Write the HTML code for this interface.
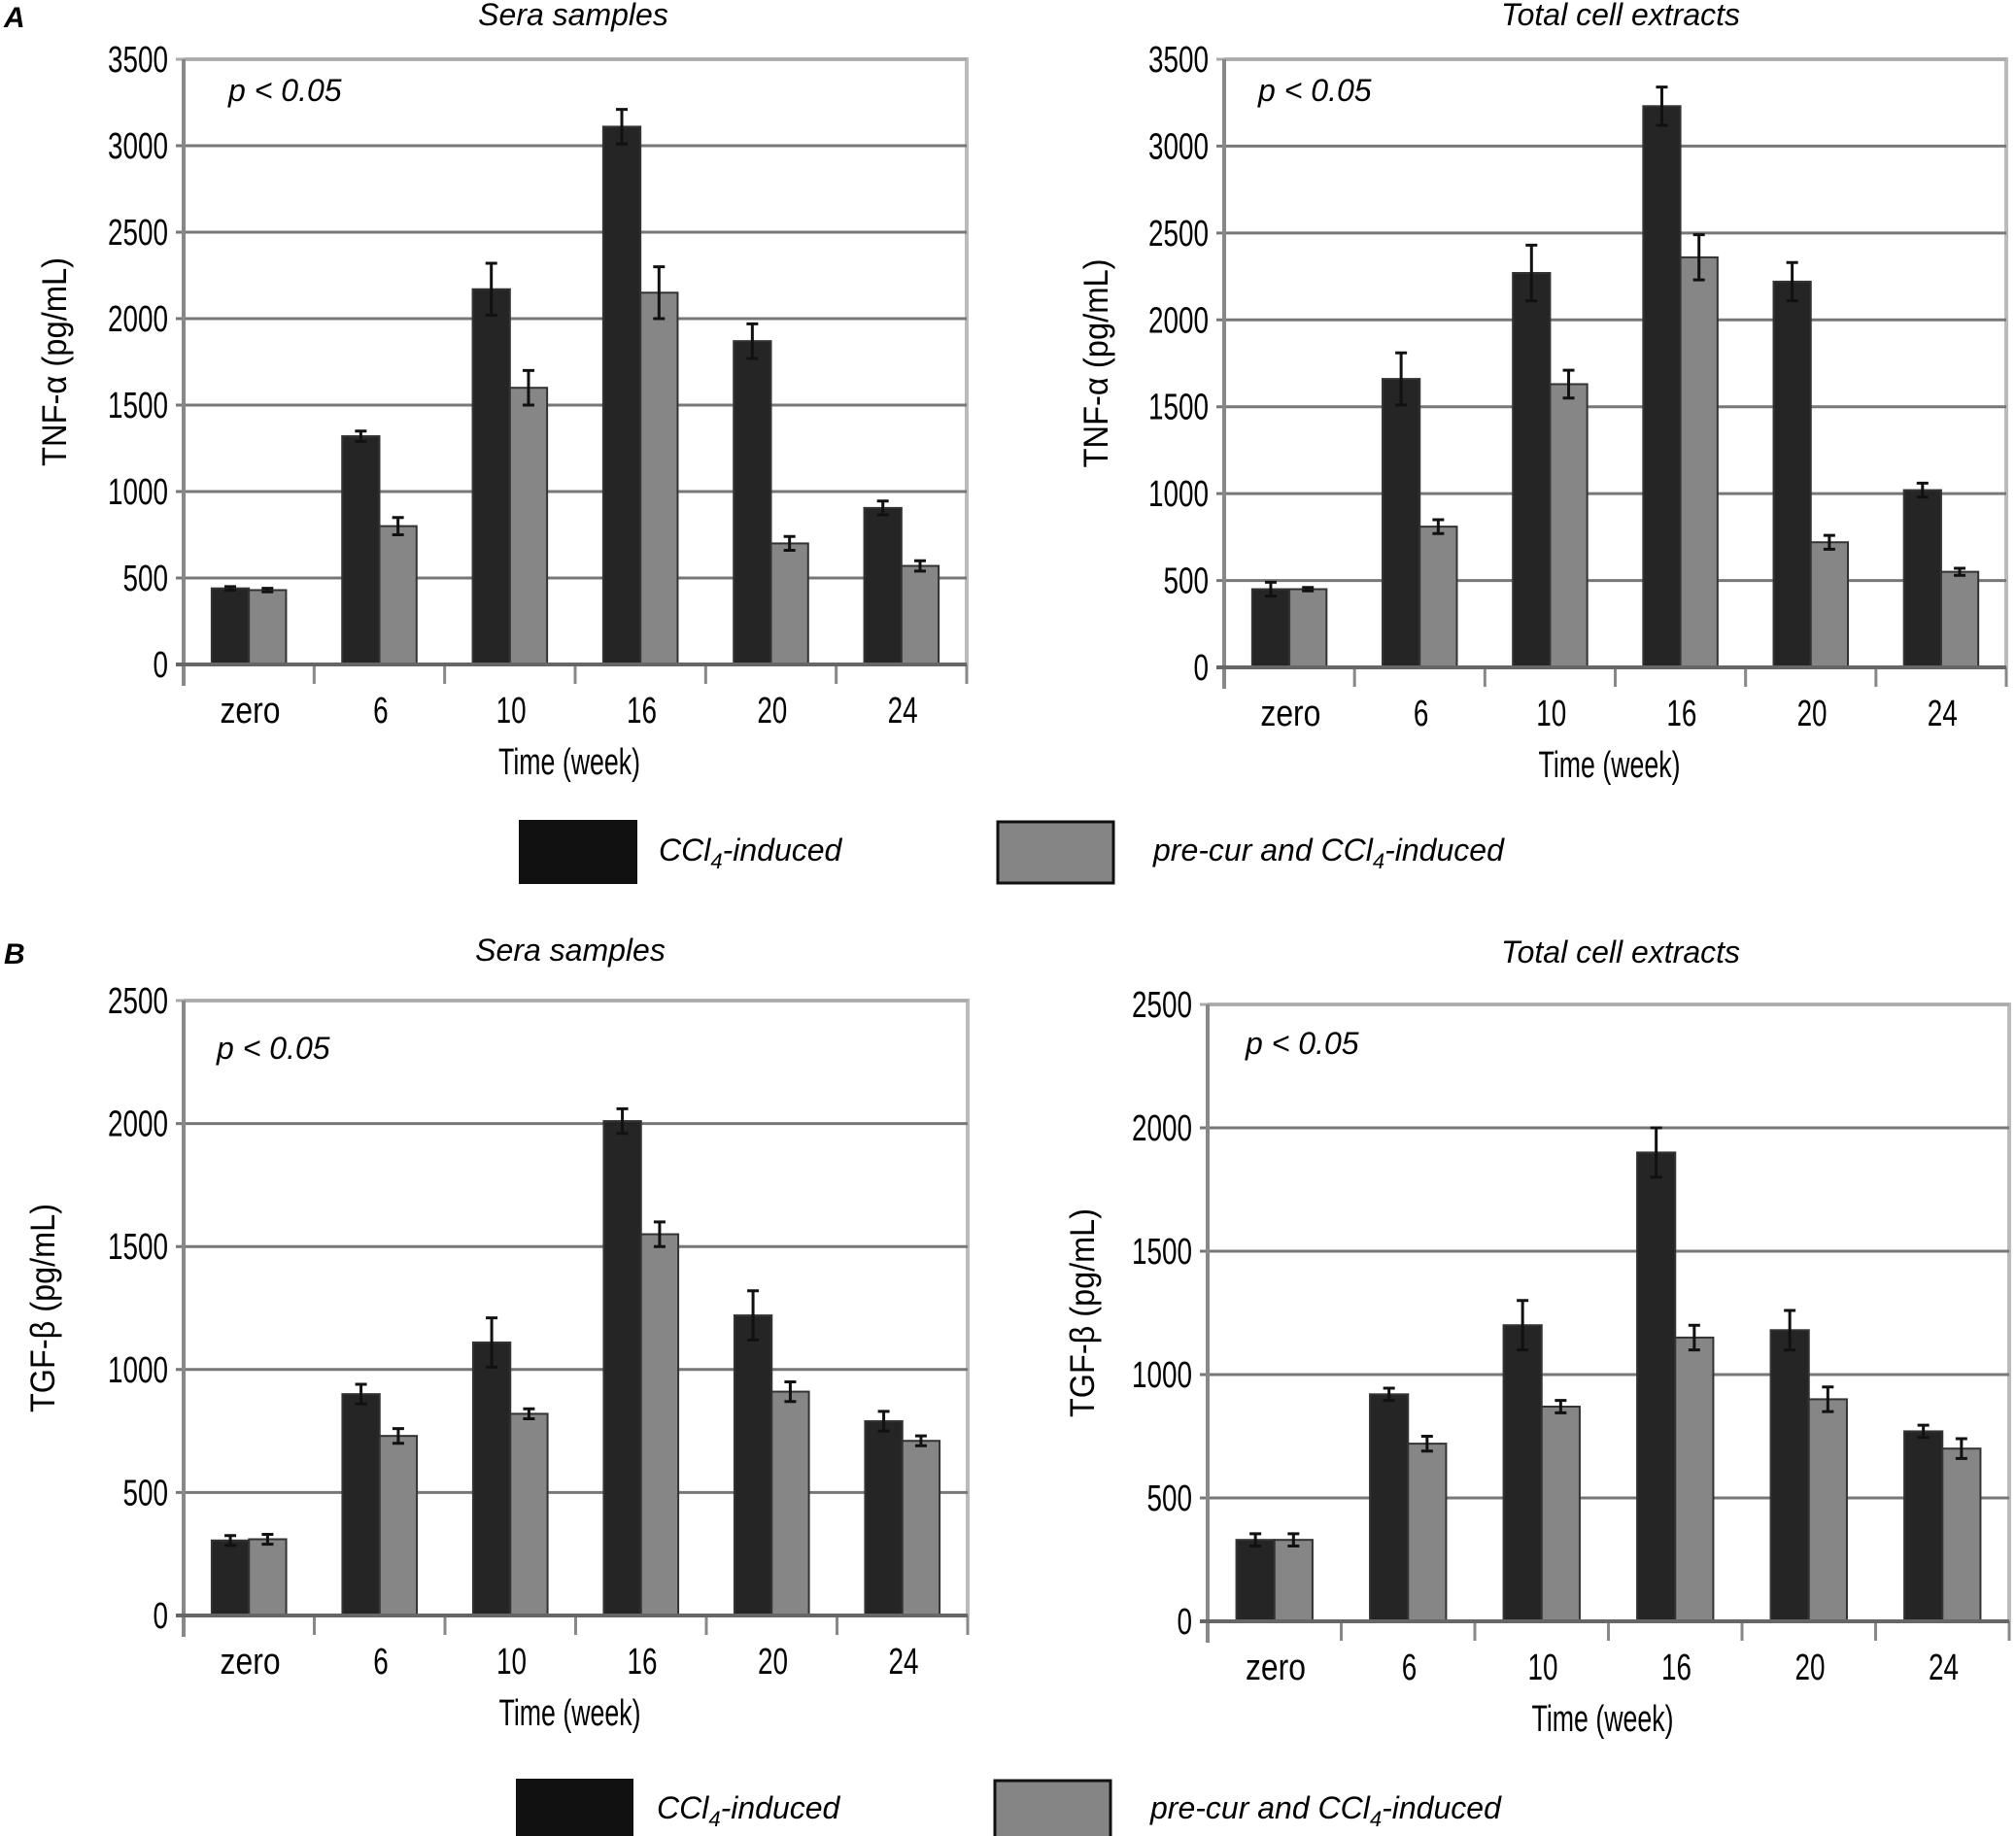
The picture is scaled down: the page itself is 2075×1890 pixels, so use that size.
<!DOCTYPE html>
<html><head><meta charset="utf-8"><style>
html,body{margin:0;padding:0;background:#fff;}
svg{display:block;}
text{font-family:"Liberation Sans",sans-serif;}
.it{font-style:italic;}
</style></head><body>
<svg id="svg" width="2075" height="1890" viewBox="0 0 2075 1890" xmlns="http://www.w3.org/2000/svg">
<g id="static">
<text x="4" y="28" font-size="30" class="it" font-weight="bold">A</text>
<text x="4" y="992" font-size="30" class="it" font-weight="bold">B</text>
<text x="590" y="26" font-size="32" class="it" text-anchor="middle">Sera samples</text>
<text x="1668" y="26" font-size="32" class="it" text-anchor="middle">Total cell extracts</text>
<text x="587" y="989" font-size="32" class="it" text-anchor="middle">Sera samples</text>
<text x="1668" y="991" font-size="32" class="it" text-anchor="middle">Total cell extracts</text>
<g>
<rect x="534" y="844" width="122" height="66" fill="#111"/>
<text x="678" y="886" font-size="32" class="it">CCl<tspan font-size="22" dy="8">4</tspan><tspan dy="-8">-induced</tspan></text>
<rect x="1027" y="846" width="119" height="63" fill="#858585" stroke="#111" stroke-width="3"/>
<text x="1187" y="886" font-size="32" class="it">pre-cur and CCl<tspan font-size="22" dy="8">4</tspan><tspan dy="-8">-induced</tspan></text>
</g>
<g>
<rect x="531" y="1831" width="121" height="66" fill="#111"/>
<text x="676" y="1872" font-size="32" class="it">CCl<tspan font-size="22" dy="8">4</tspan><tspan dy="-8">-induced</tspan></text>
<rect x="1024" y="1833" width="119" height="63" fill="#858585" stroke="#111" stroke-width="3"/>
<text x="1184" y="1872" font-size="32" class="it">pre-cur and CCl<tspan font-size="22" dy="8">4</tspan><tspan dy="-8">-induced</tspan></text>
</g>
</g>
</svg>
<script>
const categories = ["zero","6","10","16","20","24"];
const tnfSeraCcl4 = [440,1320,2170,3110,1870,905];
const tnfSeraCcl4Err = [10,30,150,100,100,40];
const tnfSeraPre = [430,800,1600,2150,700,570];
const tnfSeraPreErr = [10,50,100,150,40,30];
const tnfCellCcl4 = [450,1660,2270,3230,2220,1020];
const tnfCellCcl4Err = [40,150,160,110,110,40];
const tnfCellPre = [450,810,1630,2360,720,550];
const tnfCellPreErr = [10,40,80,130,40,20];
const tgfSeraCcl4 = [305,900,1110,2010,1220,790];
const tgfSeraCcl4Err = [20,40,100,50,100,40];
const tgfSeraPre = [310,730,820,1550,910,710];
const tgfSeraPreErr = [20,30,20,50,40,20];
const tgfCellCcl4 = [330,920,1200,1900,1180,770];
const tgfCellCcl4Err = [25,25,100,100,80,25];
const tgfCellPre = [330,720,870,1150,900,700];
const tgfCellPreErr = [25,30,25,50,50,40];
const tnfTicks = [0,500,1000,1500,2000,2500,3000,3500];
const tgfTicks = [0,500,1000,1500,2000,2500];

const NS="http://www.w3.org/2000/svg";
const svg=document.getElementById('svg');
function mk(tag,attrs,parent){const e=document.createElementNS(NS,tag);for(const k in attrs)e.setAttribute(k,attrs[k]);(parent||svg).appendChild(e);return e;}

function chart(cfg){
  const g=mk('g',{});
  
  
  const ymax=cfg.ticks[cfg.ticks.length-1];
  const y=v=>cfg.y0-(v/ymax)*(cfg.y0-cfg.ytop);
  const W=(cfg.x1-cfg.x0)/categories.length;
  const xc=i=>cfg.x0+i*W;
  const fr=mk('path',{d:`M${cfg.x0} ${cfg.ytop} H${cfg.x1} V${cfg.y0}`,fill:'none',stroke:'#bbb','stroke-width':4},g);
  
  
  cfg.ticks.forEach(t=>{
    const gl=mk('line',{x1:cfg.x0-8,x2:cfg.x1,y1:y(t),y2:y(t),stroke:t===ymax?'#aaa':'#777','stroke-width':3},g);
    
    
    const s=String(t);
    const tx=mk('text',{x:cfg.x0-16,y:y(t)+13,'font-size':38,'text-anchor':'end',textLength:s.length*15.5,lengthAdjust:'spacingAndGlyphs'},g);
    tx.textContent=s;
    
    
  });
  const ya=mk('line',{x1:cfg.x0,x2:cfg.x0,y1:cfg.ytop,y2:cfg.y0+22,stroke:'#888','stroke-width':4},g);
  
  
  for(let i=1;i<=categories.length;i++){
    const tk=mk('line',{x1:xc(i),x2:xc(i),y1:cfg.y0,y2:cfg.y0+20,stroke:'#888','stroke-width':3},g);
    
    
  }
  const series=[[cfg.a,cfg.ae,'#252525',0],[cfg.b,cfg.be,'#868686',1]];
  series.forEach(([vals,errs,col,k])=>{
    vals.forEach((v,i)=>{
      const bx=xc(i)+W*0.215+k*W*0.285;
      const bw=W*0.285;
      const r=mk('rect',{x:bx,y:y(v),width:bw,height:cfg.y0-y(v),fill:col,stroke:'#333','stroke-width':2},g);
      
      
      const cx=bx+bw/2, e=errs[i];
      const eb=mk('path',{d:`M${cx} ${y(v+e)} V${y(v-e)} M${cx-6} ${y(v+e)} H${cx+6} M${cx-6} ${y(v-e)} H${cx+6}`,stroke:'#111','stroke-width':3,fill:'none'},g);
      
      
    });
  });
  const zl=mk('line',{x1:cfg.x0-8,x2:cfg.x1,y1:cfg.y0,y2:cfg.y0,stroke:'#666','stroke-width':4},g);
  
  
  categories.forEach((c,i)=>{
    const t=mk('text',{x:xc(i)+W*0.48+4,y:cfg.y0+60,'font-size':38,'text-anchor':'middle',textLength:c.length*15.5,lengthAdjust:'spacingAndGlyphs'},g);
    t.textContent=c;
    
    
  });
  const xt=mk('text',{x:(cfg.x0+cfg.x1)/2-6,y:cfg.y0+113,'font-size':38,'text-anchor':'middle',textLength:146,lengthAdjust:'spacingAndGlyphs'},g);
  xt.textContent='Time (week)';
  
  
  const yt=mk('text',{x:0,y:0,'font-size':35,'text-anchor':'middle',textLength:cfg.ylen,lengthAdjust:'spacingAndGlyphs',transform:`translate(${cfg.ytx},${(cfg.ytop+cfg.y0)/2}) rotate(-90)`},g);
  yt.textContent=cfg.ylabel;
  
  
  const p=mk('text',{x:cfg.px,y:cfg.py,'font-size':32,'font-style':'italic'},g);
  p.textContent='p < 0.05';
  
  
}
chart({name:'chart-tnf-sera',x0:189,x1:995,ytop:61,y0:684,ticks:tnfTicks,a:tnfSeraCcl4,ae:tnfSeraCcl4Err,b:tnfSeraPre,be:tnfSeraPreErr,ylabel:'TNF-α  (pg/mL)',ylen:215,ytx:68,px:235,py:104});
chart({name:'chart-tnf-cells',x0:1260,x1:2065,ytop:61,y0:687,ticks:tnfTicks,a:tnfCellCcl4,ae:tnfCellCcl4Err,b:tnfCellPre,be:tnfCellPreErr,ylabel:'TNF-α  (pg/mL)',ylen:215,ytx:1140,px:1295,py:104});
chart({name:'chart-tgf-sera',x0:189,x1:996,ytop:1030,y0:1663,ticks:tgfTicks,a:tgfSeraCcl4,ae:tgfSeraCcl4Err,b:tgfSeraPre,be:tgfSeraPreErr,ylabel:'TGF-β  (pg/mL)',ylen:215,ytx:56,px:223,py:1090});
chart({name:'chart-tgf-cells',x0:1243,x1:2068,ytop:1034,y0:1669,ticks:tgfTicks,a:tgfCellCcl4,ae:tgfCellCcl4Err,b:tgfCellPre,be:tgfCellPreErr,ylabel:'TGF-β  (pg/mL)',ylen:215,ytx:1126,px:1282,py:1085});
</script>
</body></html>
